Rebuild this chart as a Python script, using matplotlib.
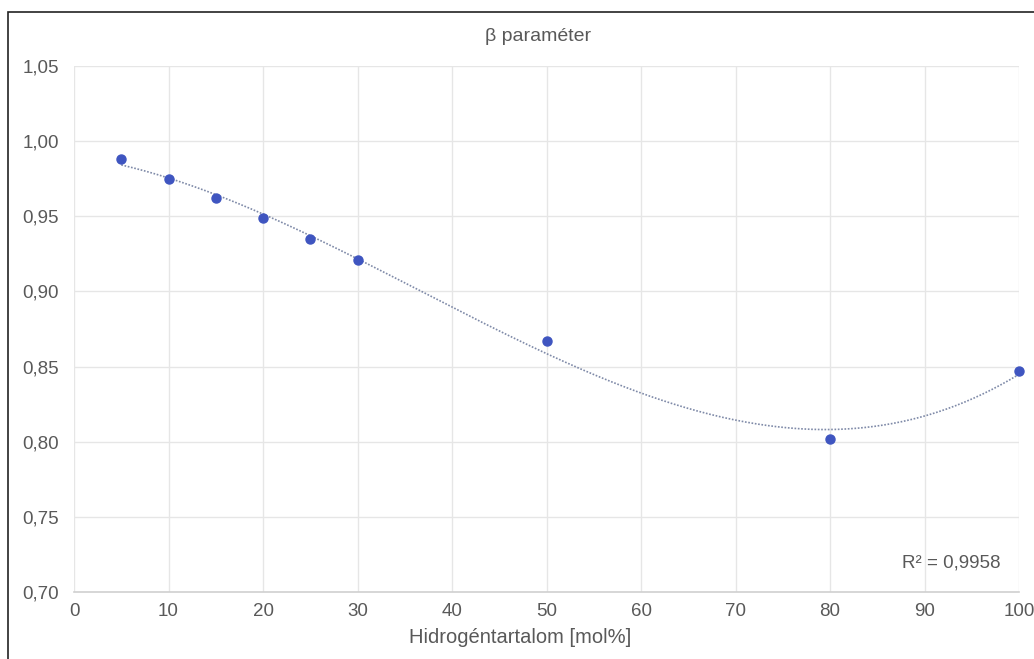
import numpy as np
import matplotlib.pyplot as plt
from matplotlib.patches import Rectangle
from matplotlib.ticker import FuncFormatter, MultipleLocator

# data
h2_mol = [5, 10, 15, 20, 25, 30, 50, 80, 100]
beta = [0.988, 0.975, 0.962, 0.949, 0.935, 0.921, 0.867, 0.802, 0.847]
r2_label = 'R² = 0,9958'

plt.rcParams['font.family'] = ['Liberation Sans', 'DejaVu Sans']
txt = '#595959'

fig = plt.figure(figsize=(10.34, 6.59), dpi=100)
ax = fig.add_axes([0.0716, 0.1017, 0.9139, 0.7981])

# 3rd order polynomial trendline (as in Excel)
coef = np.polyfit(h2_mol, beta, 3)
xx = np.linspace(min(h2_mol), max(h2_mol), 300)
ax.plot(xx, np.polyval(coef, xx), color='#7f8aa8', lw=1.2, ls=(0, (1, 1)), zorder=2)
ax.plot(h2_mol, beta, 'o', color='#3f55c0', ms=6.5, zorder=3, clip_on=False)

ax.set_xlim(0, 100)
ax.set_ylim(0.70, 1.05)
ax.xaxis.set_major_locator(MultipleLocator(10))
ax.yaxis.set_major_locator(MultipleLocator(0.05))
ax.yaxis.set_major_formatter(FuncFormatter(lambda v, p: ('%.2f' % v).replace('.', ',')))
ax.grid(True, color='#e6e6e6', lw=1.0)
ax.set_axisbelow(True)
for s in ['top', 'right', 'left']:
    ax.spines[s].set_visible(False)
ax.spines['bottom'].set_color('#d0d0d0')
ax.spines['bottom'].set_linewidth(1.2)
ax.tick_params(length=0, labelsize=13.5, colors=txt)
ax.tick_params(axis='y', pad=11)
ax.tick_params(axis='x', pad=8)

fig.text(0.503, 0.033, 'Hidrogéntartalom [mol%]', ha='center', va='center',
         fontsize=14.5, color=txt)
fig.text(0.52, 0.944, 'β paraméter', ha='center', va='center', fontsize=14, color=txt)
ax.text(0.98, 0.055, r2_label, transform=ax.transAxes, ha='right', va='center',
        fontsize=13.5, color=txt)

# outer chart frame
fig.patches.append(Rectangle((8 / 1034, -0.1), 1.2, 1 - 12 / 659 + 0.1,
                             transform=fig.transFigure, fill=False,
                             edgecolor='#222222', lw=1.2))

fig.savefig('out.png', dpi=100)
